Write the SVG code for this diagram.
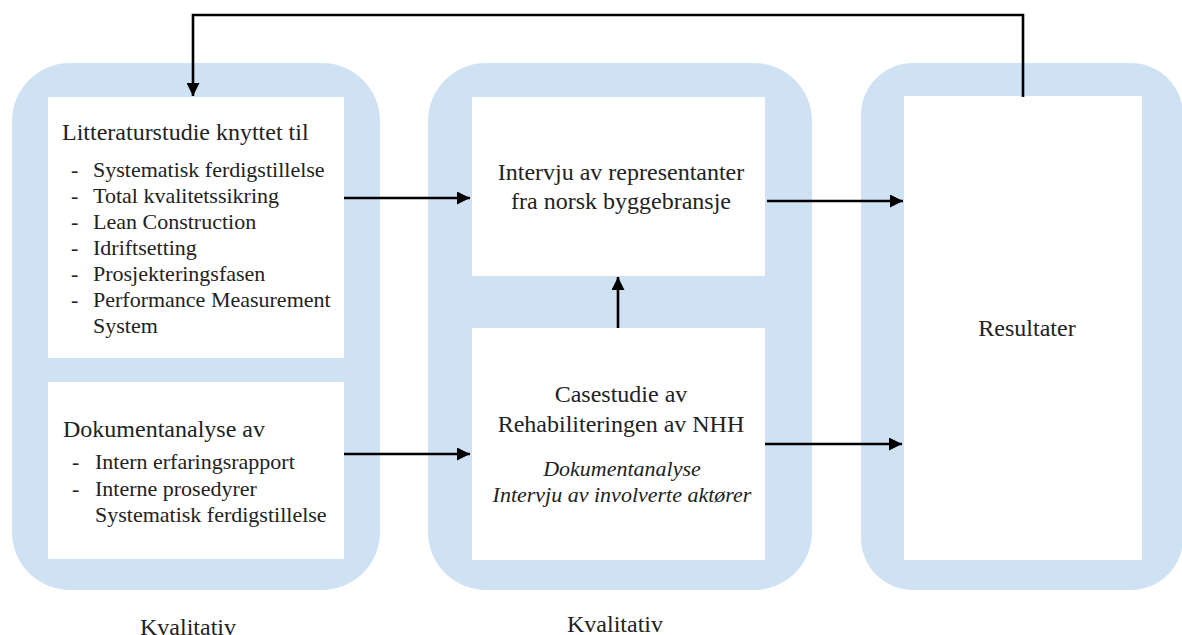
<svg xmlns="http://www.w3.org/2000/svg" width="1182" height="635" viewBox="0 0 1182 635">
  <defs>
    <marker id="arrow" viewBox="0 0 10 10" refX="10" refY="5" markerWidth="6" markerHeight="5" markerUnits="strokeWidth" orient="auto">
      <path d="M0,0 L10,5 L0,10 Z" fill="#000"/>
    </marker>
    <style>
      .panel { fill: #cfe2f3; }
      .box { fill: #ffffff; }
      .t { font-family: "Liberation Serif", "Times New Roman", serif; fill: #222; font-size: 24px; }
      .s { font-size: 22px; }
      .c { text-anchor: middle; }
      .i { font-style: italic; }
      .edge { fill: none; stroke: #000; stroke-width: 2.6; marker-end: url(#arrow); }
    </style>
  </defs>
  <rect width="1182" height="635" fill="#ffffff"/>

  <!-- phase panels -->
  <g id="panel-left"><rect class="panel" x="12" y="63" width="368" height="527" rx="58"/></g>
  <g id="panel-middle"><rect class="panel" x="428" y="63" width="384" height="527" rx="58"/></g>
  <g id="panel-right"><rect class="panel" x="861" y="63" width="322" height="527" rx="52"/></g>

  <!-- literature study -->
  <g id="node-litteratur">
    <rect class="box" x="48" y="97" width="296" height="261"/>
    <text class="t" x="62" y="140">Litteraturstudie knyttet til</text>
    <g class="t s">
      <text x="71" y="177">-</text><text x="93" y="177">Systematisk ferdigstillelse</text>
      <text x="71" y="203">-</text><text x="93" y="203">Total kvalitetssikring</text>
      <text x="71" y="229">-</text><text x="93" y="229">Lean Construction</text>
      <text x="71" y="255">-</text><text x="93" y="255">Idriftsetting</text>
      <text x="71" y="281">-</text><text x="93" y="281">Prosjekteringsfasen</text>
      <text x="71" y="307">-</text><text x="93" y="307">Performance Measurement</text>
      <text x="93" y="333">System</text>
    </g>
  </g>

  <!-- document analysis -->
  <g id="node-dokument">
    <rect class="box" x="48" y="382" width="296" height="177"/>
    <text class="t" x="63" y="437">Dokumentanalyse av</text>
    <g class="t s">
      <text x="72" y="469">-</text><text x="95" y="469">Intern erfaringsrapport</text>
      <text x="72" y="496">-</text><text x="95" y="496">Interne prosedyrer</text>
      <text x="95" y="522">Systematisk ferdigstillelse</text>
    </g>
  </g>

  <!-- interviews -->
  <g id="node-intervju">
    <rect class="box" x="472" y="97" width="293" height="179"/>
    <text class="t c" x="621" y="180">Intervju av representanter</text>
    <text class="t c" x="621" y="209">fra norsk byggebransje</text>
  </g>

  <!-- case study -->
  <g id="node-casestudie">
    <rect class="box" x="472" y="328" width="293" height="232"/>
    <text class="t c" x="621" y="402">Casestudie av</text>
    <text class="t c" x="621" y="432">Rehabiliteringen av NHH</text>
    <text class="t c i s" x="622" y="476">Dokumentanalyse</text>
    <text class="t c i s" x="622" y="502">Intervju av involverte aktører</text>
  </g>

  <!-- results -->
  <g id="node-resultater">
    <rect class="box" x="904" y="96" width="238" height="464"/>
    <text class="t c" x="1027" y="336">Resultater</text>
  </g>

  <!-- phase labels -->
  <g id="labels">
    <text class="t c" x="188" y="635">Kvalitativ</text>
    <text class="t c" x="615" y="632">Kvalitativ</text>
  </g>

  <!-- connectors -->
  <g id="connectors">
    <path class="edge" d="M344,198 H470"/>
    <path class="edge" d="M344,454 H470"/>
    <path class="edge" d="M767,201 H903"/>
    <path class="edge" d="M765,444 H902"/>
    <path class="edge" d="M618,328 V277"/>
    <path class="edge" d="M1023,97 V15 H193 V96"/>
  </g>
</svg>
